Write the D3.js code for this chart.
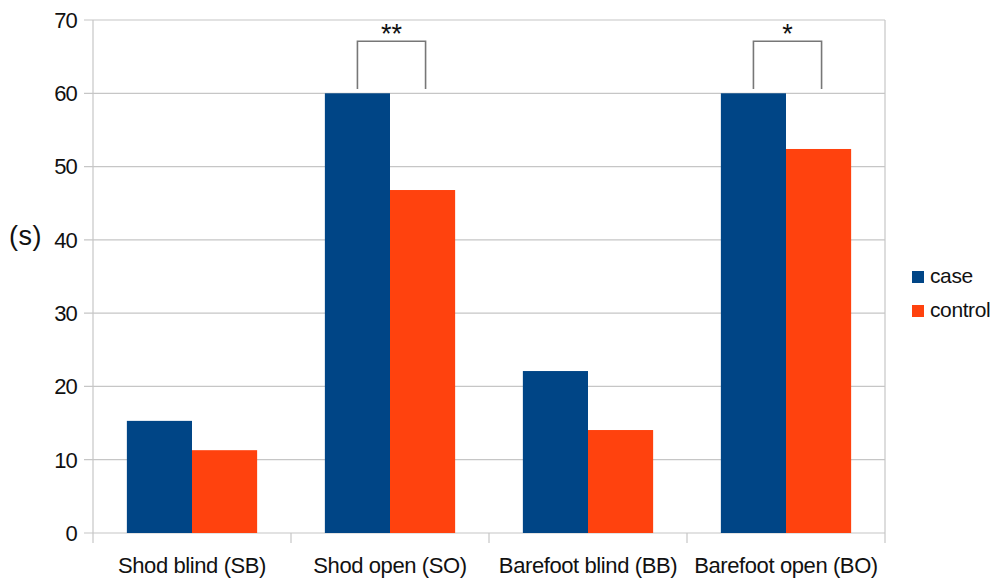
<!DOCTYPE html>
<html>
<head>
<meta charset="utf-8">
<script src="https://cdn.jsdelivr.net/npm/d3@7"></script>
<style>
  body { margin: 0; background: #fff; }
  text { font-family: "Liberation Sans", Arial, sans-serif; fill: #111; }
</style>
</head>
<body>
<div id="chart"></div>
<script>
// Chart data;
var categories = ["Shod blind (SB)", "Shod open (SO)", "Barefoot blind (BB)", "Barefoot open (BO)"]
var seriesNames = ["case", "control"]
var caseValues = [15.3, 60, 22.1, 60]
var controlValues = [11.3, 46.8, 14.05, 52.4]
var yTicks = [0, 10, 20, 30, 40, 50, 60, 70]
// Significance brackets: category index and label;
var sigCategories = [1, 3]
var sigLabels = ["**", "*"]

var colors = ["#004586", "#ff420e"]
var gridColor = "#c6c6c6"

const width = 999, height = 582
const margin = {left: 93, right: 114, top: 20, bottom: 49}

const svg = d3.select("#chart").append("svg")
    .attr("width", width)
    .attr("height", height)

const x = d3.scaleBand()
    .domain(categories)
    .range([margin.left, width - margin.right])
    .paddingInner(0)
    .paddingOuter(0)

const inner = d3.scaleBand()
    .domain(seriesNames)
    .range([0, x.bandwidth()])
    .paddingOuter(0.52)
    .paddingInner(0)

const y = d3.scaleLinear()
    .domain([0, 70])
    .range([height - margin.bottom, margin.top])

/////////////////////////////

// Horizontal grid lines with small ticks on the left;
svg.append("g")
    .selectAll("line")
    .data(yTicks)
    .join("line")
    .attr("x1", margin.left - 9)
    .attr("x2", width - margin.right)
    .attr("y1", d => y(d))
    .attr("y2", d => y(d))
    .attr("stroke", gridColor)
    .attr("stroke-width", 1.2)

// Y tick labels;
svg.append("g")
    .selectAll("text")
    .data(yTicks)
    .join("text")
    .attr("x", margin.left - 16)
    .attr("y", d => y(d))
    .attr("dy", "0.36em")
    .attr("text-anchor", "end")
    .attr("font-size", 22)
    .attr("letter-spacing", -0.8)
    .text(d => d)

// Vertical axis lines at category boundaries (left, right and ticks below);
var boundaries = categories.map(c => x(c)).concat([x.range()[1]])
svg.append("g")
    .selectAll("line")
    .data(boundaries)
    .join("line")
    .attr("x1", d => d)
    .attr("x2", d => d)
    .attr("y1", (d, i) => (i == 0 || i == boundaries.length - 1) ? y(70) : y(0))
    .attr("y2", y(0) + 10)
    .attr("stroke", gridColor)
    .attr("stroke-width", 1.2)

// Bars;
var rows = categories.map((c, i) => ({cat: c, values: [caseValues[i], controlValues[i]]}))
svg.append("g")
    .selectAll("g")
    .data(rows)
    .join("g")
    .attr("transform", d => `translate(${x(d.cat)},0)`)
    .selectAll("rect")
    .data(d => d.values.map((v, j) => ({name: seriesNames[j], value: v, j: j})))
    .join("rect")
    .attr("x", d => inner(d.name))
    .attr("width", inner.bandwidth())
    .attr("y", d => y(d.value))
    .attr("height", d => y(0) - y(d.value))
    .attr("fill", d => colors[d.j])

// Category labels;
svg.append("g")
    .selectAll("text")
    .data(categories)
    .join("text")
    .attr("x", d => x(d) + x.bandwidth() / 2)
    .attr("y", 573)
    .attr("text-anchor", "middle")
    .attr("font-size", 22)
    .attr("letter-spacing", -0.4)
    .text(d => d)

// Significance brackets;
sigCategories.forEach((ci, k) => {
    var c = categories[ci]
    var x1 = x(c) + inner("case") + inner.bandwidth() / 2
    var x2 = x(c) + inner("control") + inner.bandwidth() / 2 + 3
    var top = y(67.1), bottom = y(60.6)
    svg.append("path")
        .attr("d", `M${x1},${bottom}V${top}H${x2}V${bottom}`)
        .attr("fill", "none")
        .attr("stroke", "#777")
        .attr("stroke-width", 1.6)
    svg.append("text")
        .attr("x", (x1 + x2) / 2)
        .attr("y", top + 2)
        .attr("text-anchor", "middle")
        .attr("font-size", 27)
        .text(sigLabels[k])
})

// Y axis unit label;
svg.append("text")
    .attr("x", 9)
    .attr("y", 245)
    .attr("font-size", 27)
    .attr("letter-spacing", 0.5)
    .text("(s)")

// Legend;
const legend = svg.append("g")
    .selectAll("g")
    .data(seriesNames)
    .join("g")
    .attr("transform", (d, i) => `translate(912,${271 + i * 34})`)
legend.append("rect")
    .attr("width", 12)
    .attr("height", 12)
    .attr("fill", (d, i) => colors[i])
legend.append("text")
    .attr("x", 18)
    .attr("y", 12)
    .attr("font-size", 21)
    .attr("letter-spacing", -0.4)
    .text(d => d)
</script>
</body>
</html>
